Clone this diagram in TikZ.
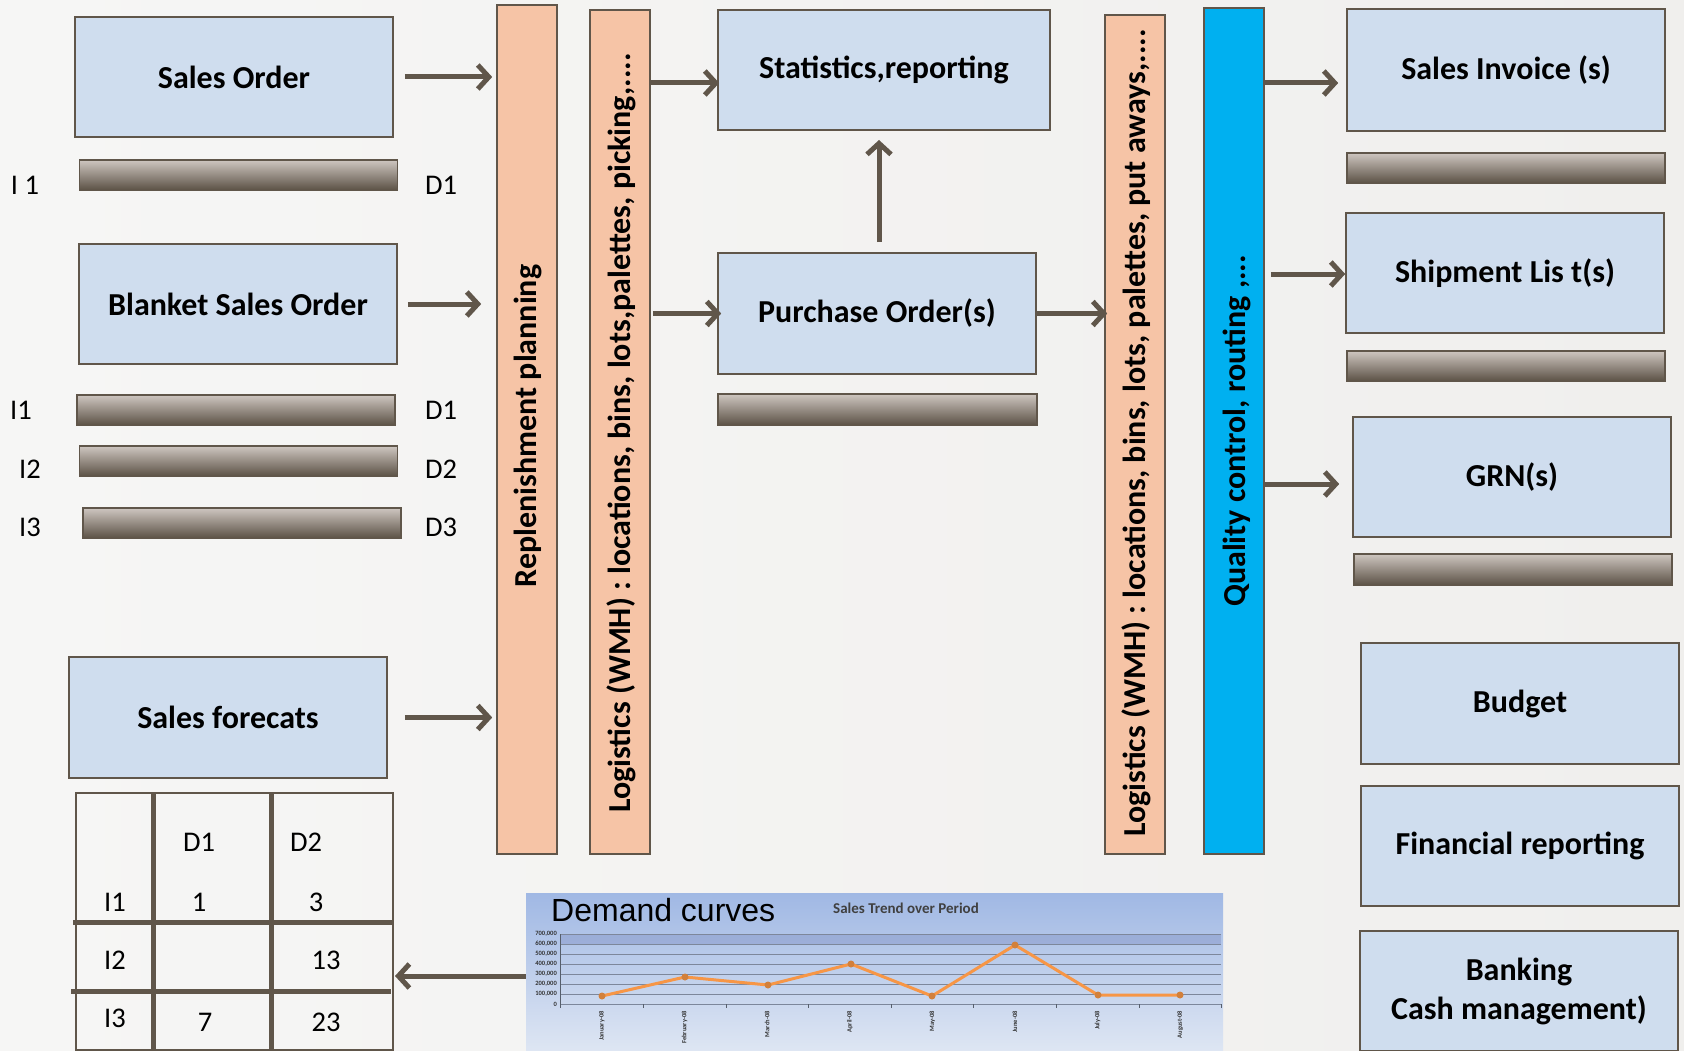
\documentclass[tikz,border=0pt]{standalone}
\usepackage{fontspec}
\setmainfont{Carlito}
\newfontfamily\arialf{Liberation Sans}
\usetikzlibrary{arrows.meta}
\definecolor{bgl}{RGB}{246,246,245}
\definecolor{bgr}{RGB}{240,239,237}
\definecolor{boxc}{RGB}{207,221,238}
\definecolor{edgec}{RGB}{96,86,74}
\definecolor{salm}{RGB}{246,196,166}
\definecolor{qcblue}{RGB}{0,176,240}
\definecolor{barl}{RGB}{206,198,192}
\definecolor{bard}{RGB}{92,82,70}
\definecolor{orng}{RGB}{247,150,70}
\definecolor{chtop}{RGB}{160,184,228}
\definecolor{chbot}{RGB}{222,230,243}
\definecolor{gridc}{RGB}{125,135,155}
\begin{document}
\begin{tikzpicture}[x=1pt,y={(0pt,-1pt)},
  box/.style={draw=edgec, line width=1.6pt, fill=boxc, inner sep=0pt, align=center,
    minimum width=318pt, minimum height=120pt, font=\bfseries\fontsize{32}{39}\selectfont},
  vbar/.style={draw=edgec, line width=1.6pt, inner sep=0pt, minimum width=60pt},
  vtext/.style={rotate=90, inner sep=0pt, font=\bfseries\fontsize{32}{36}\selectfont},
  gbar/.style={draw=edgec, line width=1.2pt, inner sep=0pt, top color=barl, bottom color=bard,
    minimum width=318pt, minimum height=30pt},
  lab/.style={inner sep=0pt, font=\fontsize{28.5}{32}\selectfont},
  arr/.style={draw=edgec, line width=5pt, -{Straight Barb[length=11pt,width=24pt]}},
  tline/.style={draw=edgec, line width=5pt},
  tthin/.style={draw=edgec, line width=1.6pt},
  tick/.style={inner sep=0pt, font=\bfseries\fontsize{6.5}{7}\selectfont, text=black!80},
]
\useasboundingbox (0,0) rectangle (1684,1051);
\shade[left color=bgl, right color=bgr] (0,0) rectangle (1684,1051);

% left boxes
\node[box] (so) at (234,77) {Sales Order};
\node[box] (bso) at (238,304) {Blanket Sales Order};
\node[box, minimum height=121pt] (sf) at (228,717.5) {Sales forecats};

\node[gbar] (b1) at (238.5,175) {};
\node[gbar] (b2) at (236,410) {};
\node[gbar] (b3) at (238.5,461) {};
\node[gbar] (b4) at (242,523) {};

\node[lab] (l1) at (25,185) {I 1};
\node[lab] (r1) at (441,185) {D1};
\node[lab] (l2) at (21,410) {I1};
\node[lab] (r2) at (441,410) {D1};
\node[lab] (l3) at (30,469) {I2};
\node[lab] (r3) at (441,469) {D2};
\node[lab] (l4) at (30,527) {I3};
\node[lab] (r4) at (441,527) {D3};

% vertical bars
\node[vbar, fill=salm, minimum height=849pt] (rp) at (527,429.5) {};
\node[vtext] (rpt) at (528,426) {Replenishment planning};
\node[vbar, fill=salm, minimum height=844pt] (lg1) at (620,432) {};
\node[vtext] (lg1t) at (621,433) {Logistics (WMH) : locations, bins, lots,palettes, picking,....};
\node[vbar, fill=salm, minimum height=839pt] (lg2) at (1135,434.5) {};
\node[vtext] (lg2t) at (1136,433) {Logistics (WMH) : locations, bins, lots, palettes, put aways,....};
\node[vbar, fill=qcblue, minimum height=846pt] (qc) at (1234,431) {};
\node[vtext] (qct) at (1237,431) {Quality control, routing ,...};

% middle boxes
\node[box, minimum width=332pt] (st) at (884,70) {Statistics,reporting};
\node[box, minimum height=121pt] (po) at (877,313.5) {Purchase Order(s)};
\node[gbar, minimum width=319pt, minimum height=31pt] (b5) at (877.5,409.5) {};

% right boxes
\node[box, minimum height=122pt] (si) at (1506,70) {Sales Invoice (s)};
\node[gbar] (b6) at (1506,168) {};
\node[box] (sl) at (1505,273) {Shipment Lis t(s)};
\node[gbar] (b7) at (1506,366) {};
\node[box] (grn) at (1512,477) {GRN(s)};
\node[gbar, minimum height=31pt] (b8) at (1513,569.5) {};
\node[box, minimum height=121pt] (bud) at (1520,703.5) {Budget};
\node[box] (fin) at (1520,846) {Financial reporting};
\node[box, font=\bfseries\fontsize{32}{39}\selectfont] (bank) at (1519,991) {Banking\\Cash management)};

% table
\coordinate (tNW) at (76,793);
\coordinate (tSE) at (393,1050);
\draw[tthin] (tNW) rectangle (tSE);
\draw[tline] (153,793) -- (153,1050);
\draw[tline] (271,793) -- (271,1050);
\draw[tline] (73,922) -- (393,922);
\draw[tline] (71,991) -- (391,991);
\node[lab] (tD1) at (199,842) {D1};
\node[lab] (tD2) at (306,842) {D2};
\node[lab] (tI1) at (115,902) {I1};
\node[lab] (t11) at (199,902) {1};
\node[lab] (t12) at (316,902) {3};
\node[lab] (tI2) at (115,960) {I2};
\node[lab] (t22) at (326,960) {13};
\node[lab] (tI3) at (115,1018) {I3};
\node[lab] (t31) at (205,1022) {7};
\node[lab] (t32) at (326,1022) {23};
\coordinate (tE) at (395,976);

% chart
\node[inner sep=0pt, minimum width=697pt, minimum height=158pt, top color=chtop, bottom color=chbot] (chart) at (874.5,972) {};
\begin{scope}
\clip (526,893) rectangle (1223,1051);
\fill[chtop!85!blue!80!black!95, opacity=0.35] (560,934) rectangle (1221,944);
\foreach \k in {0,...,7} \draw[gridc, line width=0.9pt] (560,{934+10*\k}) -- (1221,{934+10*\k});
\draw[gridc!70!black, line width=1pt] (560,934) -- (560,1004);
\foreach \i in {0,...,8} \draw[gridc!70!black, line width=0.8pt] ({560.7+82.6*\i},1004) -- ({560.7+82.6*\i},1008);
\foreach \lab [count=\k from 0] in {{0},{100,000},{200,000},{300,000},{400,000},{500,000},{600,000},{700,000}}
  \node[tick, anchor=east] at (557,{1004-10*\k}) {\lab};
\foreach \m [count=\i from 0] in {January-08,February-08,March-08,April-08,May-08,June-08,July-08,August-08}
  \node[tick, rotate=90, anchor=east] at ({602+82.6*\i},1011) {\m};
\draw[orng, line width=3pt, line join=round] (602,996) -- (685,977) -- (768,985) -- (851,964) -- (932,996) -- (1015,945) -- (1098,995) -- (1180,995);
\foreach \p in {(602,996),(685,977),(768,985),(851,964),(932,996),(1015,945),(1098,995),(1180,995)}
  \fill[orng!85!black] \p circle (3.5pt);
\node[anchor=west, inner sep=0pt, font=\arialf\fontsize{32}{36}\selectfont] (dc) at (551,910) {Demand curves};
\node[inner sep=0pt, font=\bfseries\fontsize{15}{17}\selectfont, text=black!75] (stp) at (906,908) {Sales Trend over Period};
\end{scope}

% arrows
\draw[arr] ([xshift=11pt]so.east) -- ([xshift=-4pt]so.east -| rp.west);
\draw[arr] ([xshift=10pt]bso.east) -- ([xshift=-15pt]bso.east -| rp.west);
\draw[arr] ([xshift=17pt]sf.east) -- ([xshift=-4pt]sf.east -| rp.west);
\draw[arr] (lg1.east |- 0,83) -- ([xshift=2pt]st.west |- 0,83);
\draw[arr] ([xshift=2pt]lg1.east |- po.west) -- ([xshift=4pt]po.west);
\draw[arr] (po.north -| 879,0) ++(0,-10) -- (879,140);
\draw[arr] (po.east) -- ([xshift=3pt]po.east -| lg2.west);
\draw[arr] (qc.east |- 0,83) -- ([xshift=-8pt]si.west |- 0,83);
\draw[arr] ([xshift=6pt]qc.east |- 0,274) -- (sl.west |- 0,274);
\draw[arr] (qc.east |- 0,484) -- ([xshift=-13pt]grn.west |- 0,484);
\draw[arr] (chart.west |- tE) -- (tE);
\end{tikzpicture}
\end{document}
